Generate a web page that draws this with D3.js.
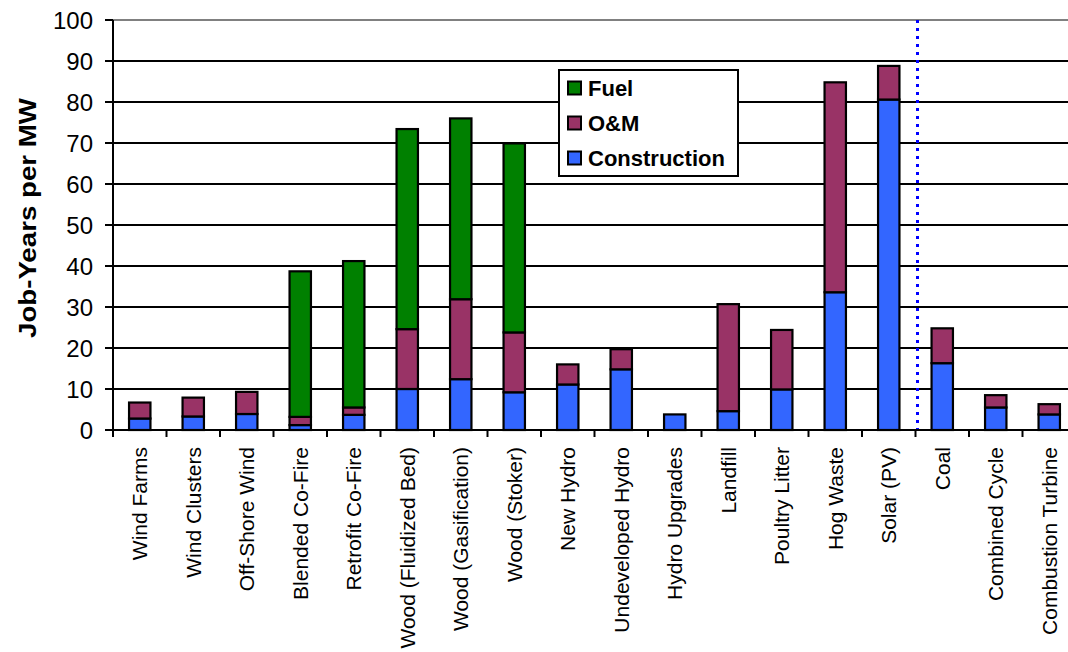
<!DOCTYPE html>
<html>
<head>
<meta charset="utf-8">
<script src="https://cdn.jsdelivr.net/npm/d3@7"></script>
<style>
  html, body { margin: 0; padding: 0; background: #fff; }
  svg { display: block; font-family: "Liberation Sans", Arial, sans-serif; }
</style>
</head>
<body>
<svg id="chart" width="1068" height="652"></svg>
<script>
const categories = ["Wind Farms", "Wind Clusters", "Off-Shore Wind", "Blended Co-Fire", "Retrofit Co-Fire",
  "Wood (Fluidized Bed)", "Wood (Gasification)", "Wood (Stoker)", "New Hydro", "Undeveloped Hydro",
  "Hydro Upgrades", "Landfill", "Poultry Litter", "Hog Waste", "Solar (PV)", "Coal", "Combined Cycle",
  "Combustion Turbine"];
const construction = [2.8, 3.3, 3.9, 1.2, 3.7, 10.0, 12.4, 9.2, 11.1, 14.8, 3.8, 4.6, 9.9, 33.6, 80.6, 16.3, 5.5, 3.8];
const om = [3.9, 4.6, 5.4, 2.0, 1.8, 14.6, 19.5, 14.6, 4.9, 4.9, 0, 26.1, 14.5, 51.2, 8.2, 8.5, 3.0, 2.5];
const fuel = [0, 0, 0, 35.5, 35.7, 48.8, 44.1, 46.1, 0, 0, 0, 0, 0, 0, 0, 0, 0, 0];
const seriesNames = ["Construction", "O&M", "Fuel"];
const seriesColors = ["#3366FF", "#993366", "#008000"];
const yTicks = [0, 10, 20, 30, 40, 50, 60, 70, 80, 90, 100];
const separatorAfter = "Solar (PV)";

(function () {
const svg = d3.select("#chart");
const pLeft = 113, pRight = 1076, pTop = 20, pBottom = 430;

const x = d3.scaleBand().domain(categories).range([pLeft, pRight]).paddingInner(0.6).paddingOuter(0.3);
const y = d3.scaleLinear().domain([0, 100]).range([pBottom, pTop]);
const step = x.step();
const boundary = i => pLeft + i * step;

// gridlines
svg.append("g").selectAll("line").data(yTicks.filter(t => t > 0)).join("line")
  .attr("x1", pLeft).attr("x2", pRight)
  .attr("y1", d => y(d)).attr("y2", d => y(d))
  .attr("stroke", d => d === 100 ? "#808080" : "#000")
  .attr("stroke-width", 2);

// stacked data
const table = categories.map((c, i) => ({cat: c, "Construction": construction[i], "O&M": om[i], "Fuel": fuel[i]}));
const stack = d3.stack().keys(seriesNames)(table);

const gBars = svg.append("g");
stack.forEach((layer, si) => {
  gBars.append("g").selectAll("rect").data(layer.filter(d => d[1] - d[0] > 0)).join("rect")
    .attr("x", d => x(d.data.cat))
    .attr("width", x.bandwidth())
    .attr("y", d => y(d[1]))
    .attr("height", d => y(d[0]) - y(d[1]))
    .attr("fill", seriesColors[si])
    .attr("stroke", "#000")
    .attr("stroke-width", 2.2);
});

// separator
const sepX = boundary(categories.indexOf(separatorAfter) + 1) + 2;
svg.append("line")
  .attr("x1", sepX).attr("x2", sepX).attr("y1", pTop).attr("y2", pBottom)
  .attr("stroke", "#0000FF").attr("stroke-width", 3).attr("stroke-dasharray", "3,5");

// y axis
svg.append("line").attr("x1", pLeft).attr("x2", pLeft).attr("y1", pTop).attr("y2", pBottom + 1)
  .attr("stroke", "#000").attr("stroke-width", 2);
svg.append("g").selectAll("line").data(yTicks).join("line")
  .attr("x1", pLeft - 8).attr("x2", pLeft).attr("y1", d => y(d)).attr("y2", d => y(d))
  .attr("stroke", "#000").attr("stroke-width", 2);
svg.append("g").selectAll("text").data(yTicks).join("text")
  .attr("x", 93).attr("y", d => y(d)).attr("dy", "0.36em")
  .attr("text-anchor", "end").attr("font-size", 24).attr("fill", "#000")
  .text(d => d);

// x axis
svg.append("line").attr("x1", pLeft - 8).attr("x2", pRight).attr("y1", pBottom).attr("y2", pBottom)
  .attr("stroke", "#000").attr("stroke-width", 2);
svg.append("g").selectAll("line").data(d3.range(categories.length + 1)).join("line")
  .attr("x1", i => boundary(i)).attr("x2", i => boundary(i)).attr("y1", pBottom).attr("y2", pBottom + 7)
  .attr("stroke", "#000").attr("stroke-width", 2);
svg.append("g").selectAll("text").data(categories).join("text")
  .attr("transform", d => `translate(${x(d) + x.bandwidth() / 2},${447}) rotate(-90)`)
  .attr("dy", "0.36em")
  .attr("text-anchor", "end").attr("font-size", 21).attr("fill", "#000")
  .text(d => d);

// y title
svg.append("text")
  .attr("transform", `translate(36,218) rotate(-90)`)
  .attr("text-anchor", "middle").attr("font-size", 23).attr("font-weight", "bold")
  .attr("textLength", 240).attr("lengthAdjust", "spacingAndGlyphs")
  .text("Job-Years per MW");

// legend
const lg = svg.append("g");
lg.append("rect").attr("x", 559).attr("y", 70).attr("width", 179).attr("height", 106)
  .attr("fill", "#fff").attr("stroke", "#000").attr("stroke-width", 2);
const legendOrder = ["Fuel", "O&M", "Construction"];
const legendY = [88, 123, 158];
legendOrder.forEach((name, i) => {
  const color = seriesColors[seriesNames.indexOf(name)];
  lg.append("rect").attr("x", 568).attr("y", legendY[i] - 6.5).attr("width", 13).attr("height", 13)
    .attr("fill", color).attr("stroke", "#000").attr("stroke-width", 2);
  lg.append("text").attr("x", 588).attr("y", legendY[i]).attr("dy", "0.36em")
    .attr("font-size", 22).attr("font-weight", "bold").attr("fill", "#000").text(name);
});
})();
</script>
</body>
</html>
